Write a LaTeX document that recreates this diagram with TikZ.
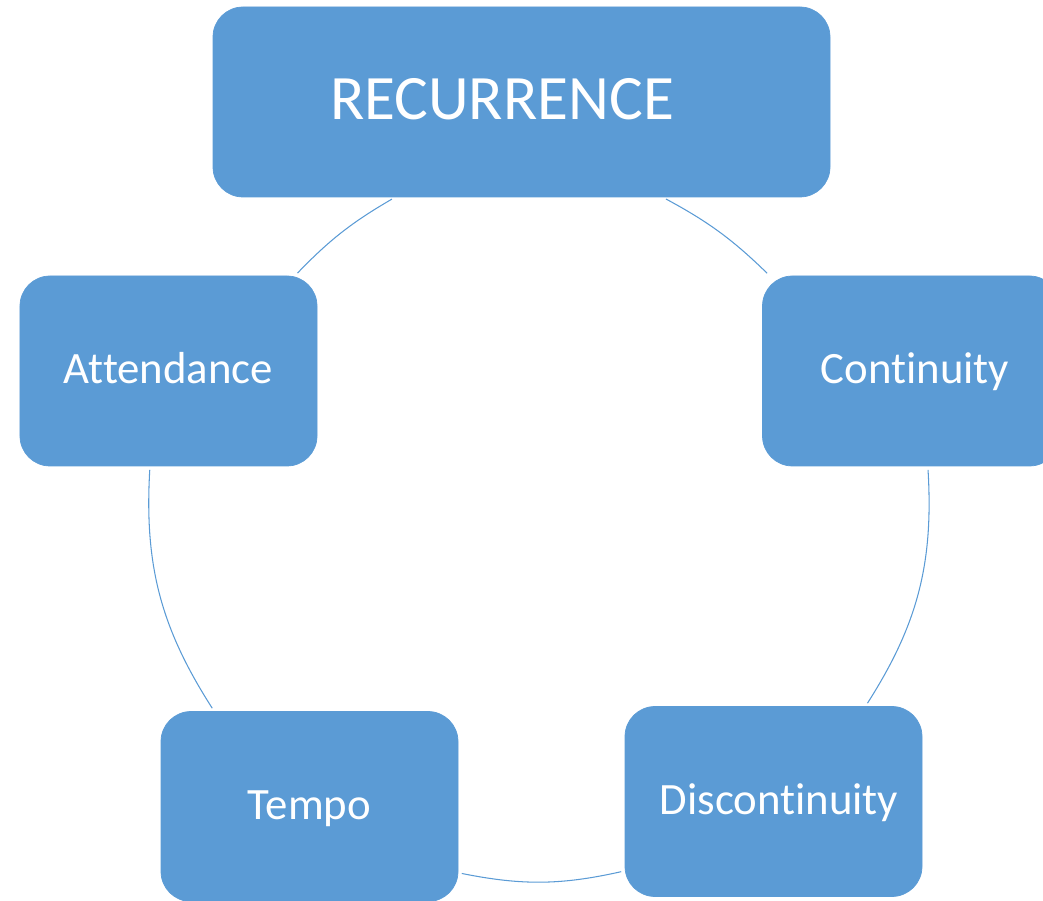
\documentclass[tikz,border=0pt]{standalone}
\usepackage{fontspec}
\setmainfont{Carlito}[Ligatures=NoCommon]
\usepackage{xcolor}
\usepackage{tikz}
\definecolor{cycleblue}{HTML}{5B9BD5}
\tikzset{
  stage/.style={draw=cycleblue, fill=cycleblue, rounded corners=0.6cm, text=white,
    inner sep=0pt, minimum width=5.94cm, minimum height=3.8cm,
    text height=0.52cm, text depth=0pt, font=\fontsize{25.5}{30}\selectfont},
  headbox/.style={stage, minimum width=12.34cm, text height=0.72cm,
    font=\fontsize{36}{43}\selectfont},
  arcline/.style={draw=cycleblue, line width=0.6pt, shorten <=2pt, shorten >=2pt}
}

\begin{document}
\begin{tikzpicture}
        \clip (0,0) rectangle (20.86,-18.02);

        % the five stages
        \node[headbox] (rec) at (10.43,-2.04) {RECURRENCE\kern0.78cm};
        \node[stage] (att) at (3.37,-7.42) {Attendance};
        \node[stage] (con) at (18.22,-7.42) {\kern0.16cm Continuity};
        \node[stage] (dis) at (15.47,-16.03) {\kern0.22cm Discontinuity};
        \node[stage] (tem) at (6.19,-16.13) {Tempo};

        % arcs of the ring, clockwise
        \draw[arcline] (rec.326) to[bend left=8] (con.146);
        \draw[arcline] (con.280) to[bend left=18] (dis.46);
        \draw[arcline] (dis.205) to[bend left=12] (tem.336);
        \draw[arcline] (tem.135) to[bend left=18] (att.259);
        \draw[arcline] (att.37) to[bend left=8] (rec.217);
    \end{tikzpicture}
\end{document}
